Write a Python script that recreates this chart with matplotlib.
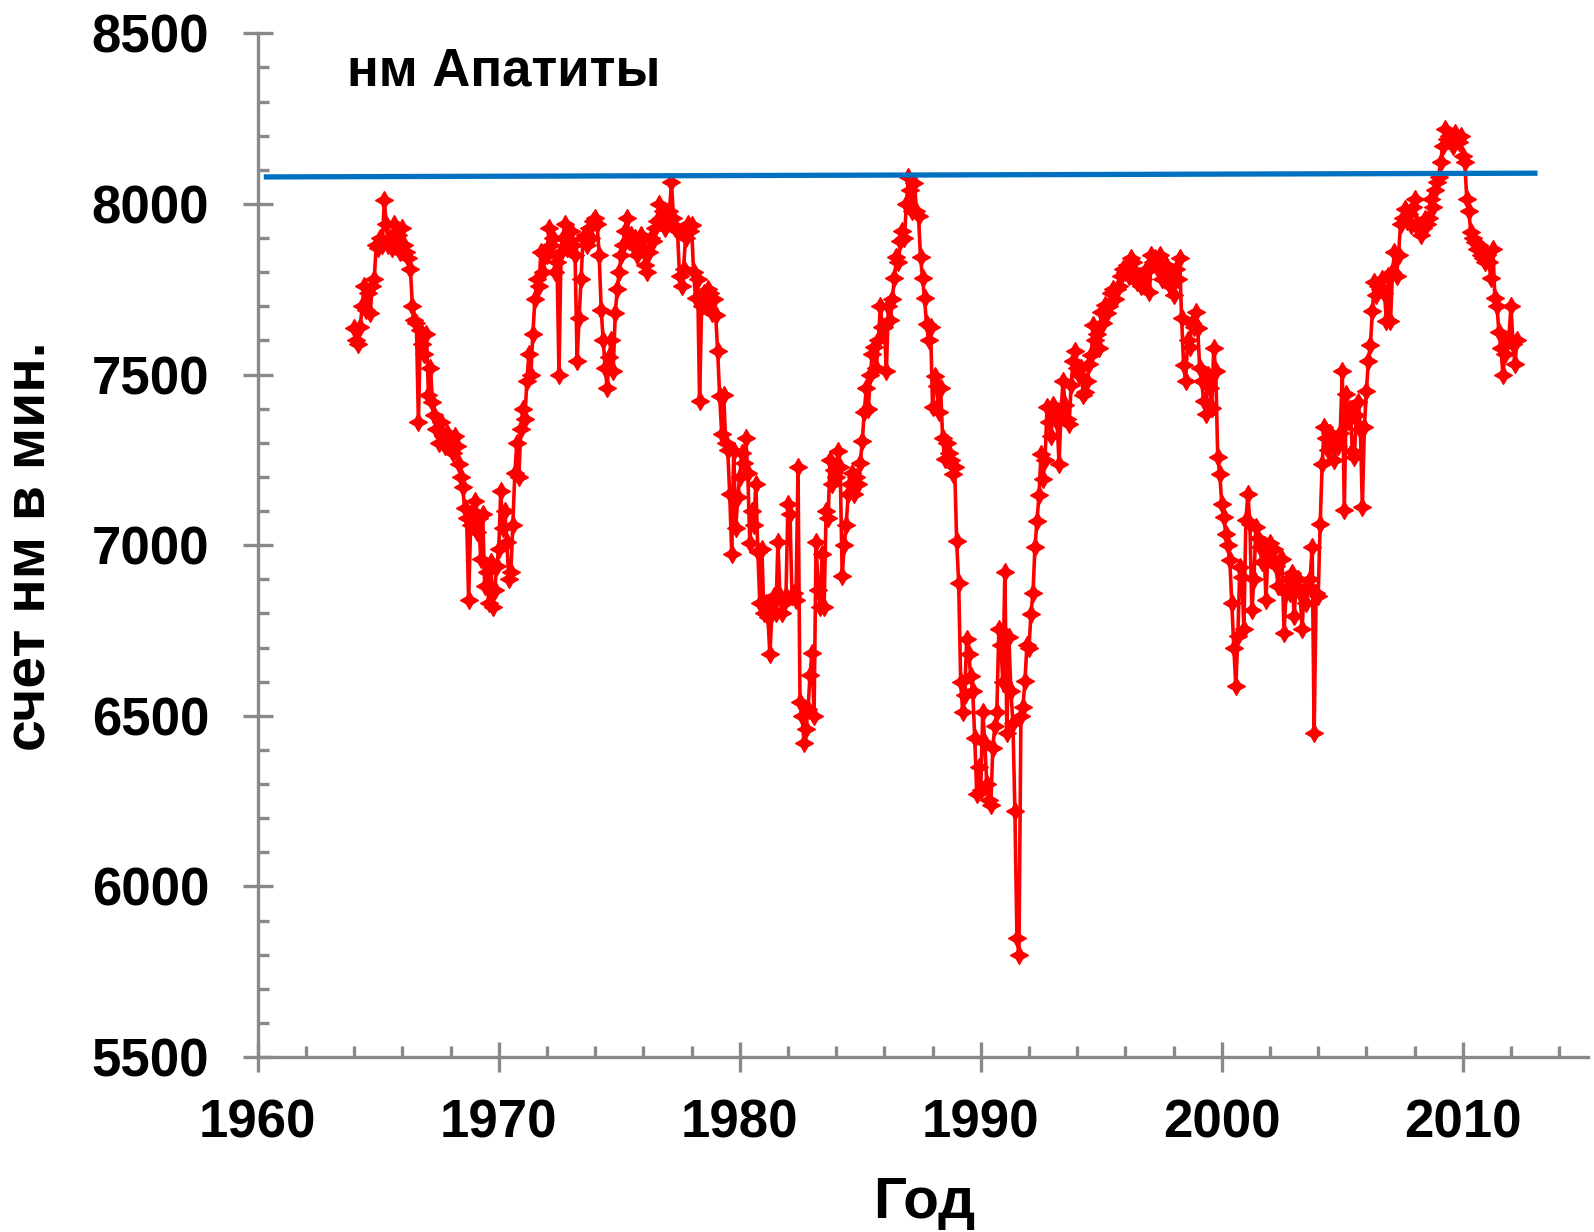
import numpy as np
import matplotlib.pyplot as plt
from matplotlib.path import Path
from matplotlib.ticker import MultipleLocator

plt.rcParams['font.family'] = ['Liberation Sans', 'DejaVu Sans']
plt.rcParams['font.weight'] = 'bold'

# monthly count rate of the Apatity neutron monitor, starting Jan 1964
start_year = 1964
counts_1960s = [
    7635, 7600, 7590, 7640, 7700, 7760, 7690, 7740, 7680, 7760, 7780, 7880,  # 1964
    7870, 7900, 7880, 8010, 7940, 7880, 7900, 7870, 7940, 7880, 7910, 7860,  # 1965
    7930, 7880, 7860, 7840, 7810, 7700, 7660, 7650, 7360, 7630, 7590, 7560,  # 1966
    7620, 7440, 7520, 7420, 7380, 7340, 7300, 7360, 7320, 7290, 7330, 7300,  # 1967
    7310, 7270, 7320, 7290, 7237, 7200, 7170, 7110, 7080, 6840, 7060, 7100,  # 1968
    7130, 7040, 7080, 6960, 7090, 6880, 6920, 6830, 6950, 6820, 6870, 6940,  # 1969
]
counts_1970s = [
    6990, 7160, 7050, 7100, 7010, 6900, 6920, 7060, 7210, 7300, 7200, 7340,  # 1970
    7400, 7370, 7480, 7560, 7500, 7620, 7720, 7780, 7760, 7860, 7800, 7850,  # 1971
    7850, 7930, 7880, 7900, 7800, 7830, 7500, 7860, 7900, 7940, 7870, 7890,  # 1972
    7920, 7880, 7850, 7540, 7665, 7780, 7900, 7910, 7880, 7930, 7900, 7950,  # 1973
    7960, 7940, 7850, 7690, 7600, 7520, 7460, 7550, 7600, 7510, 7680, 7750,  # 1974
    7800, 7850, 7880, 7920, 7960, 7890, 7910, 7880, 7900, 7850, 7880, 7910,  # 1975
    7870, 7820, 7800, 7860, 7900, 7890, 7930, 7950, 8000, 7960, 7980, 7930,  # 1976
    7950, 7980, 8063, 7960, 7930, 7920, 7790, 7760, 7810, 7900, 7940, 7920,  # 1977
    7937, 7800, 7723, 7780, 7422, 7700, 7740, 7700, 7752, 7740, 7680, 7720,  # 1978
    7675, 7568, 7437, 7325, 7440, 7300, 7280, 7150, 6975, 7277, 7050, 7140,  # 1979
]
counts_1980s = [
    7200, 7270, 7240, 7315, 7210, 7005, 7100, 7060, 7180, 6980, 6830, 6990,  # 1980
    6800, 6830, 6790, 6680, 6800, 6850, 6800, 7010, 6850, 6800, 6830, 6850,  # 1981
    7120, 7090, 6850, 6860, 6840, 7228, 6540, 6500, 6420, 6460, 6520, 6620,  # 1982
    6685, 6500, 7010, 6870, 6820, 6975, 6820, 7100, 7080, 7250, 7180, 7220,  # 1983
    7200, 7277, 7230, 6910, 7000, 7060, 7150, 7180, 7210, 7150, 7200, 7180,  # 1984
    7240, 7305, 7390, 7460, 7400, 7500, 7560, 7580, 7520, 7600, 7700, 7640,  # 1985
    7640, 7511, 7700, 7660, 7720, 7783, 7844, 7830, 7890, 7920, 7900, 8000,  # 1986
    8080, 8040, 7980, 8060, 7980, 7965, 7844, 7783, 7723, 7647, 7602, 7640,  # 1987
    7405, 7496, 7465, 7390, 7460, 7314, 7253, 7300, 7270, 7250, 7208, 7230,  # 1988
    7011, 6890, 6600, 6512, 6560, 6724, 6680, 6617, 6572, 6436, 6270, 6350,  # 1989
]
counts_1990s = [
    6284, 6512, 6420, 6300, 6254, 6240, 6405, 6470, 6512, 6754, 6708, 6600,  # 1990
    6920, 6451, 6730, 6572, 6480, 6220, 5850, 5800, 6500, 6527, 6602, 6708,  # 1991
    6700, 6799, 6860, 6996, 7071, 7147, 7268, 7193, 7250, 7405, 7360, 7320,  # 1992
    7412, 7380, 7360, 7238, 7400, 7480, 7412, 7370, 7354, 7470, 7540, 7568,  # 1993
    7520, 7500, 7519, 7441, 7450, 7480, 7530, 7558, 7645, 7600, 7620, 7577,  # 1994
    7684, 7650, 7704, 7680, 7700, 7740, 7752, 7720, 7752, 7760, 7790, 7810,  # 1995
    7800, 7820, 7790, 7840, 7830, 7800, 7772, 7790, 7760, 7780, 7800, 7810,  # 1996
    7743, 7850, 7830, 7840, 7810, 7850, 7781, 7800, 7820, 7790, 7760, 7800,  # 1997
    7733, 7810, 7780, 7840, 7665, 7529, 7480, 7600, 7580, 7650, 7640, 7684,  # 1998
    7636, 7519, 7480, 7422, 7383, 7500, 7460, 7403, 7577, 7510, 7257, 7208,  # 1999
]
counts_2000s = [
    7121, 7082, 7034, 7000, 6956, 6830, 6700, 6587, 6733, 6937, 6907, 6753,  # 2000
    7073, 7150, 7063, 6810, 6900, 7053, 7020, 6995, 6950, 7000, 6840, 6980,  # 2001
    7005, 6960, 6990, 6940, 6880, 6956, 6960, 6743, 6859, 6900, 6860, 6917,  # 2002
    6791, 6880, 6900, 6859, 6753, 6870, 6830, 6880, 6900, 6995, 6451, 6859,  # 2003
    6850, 7063, 7238, 7345, 7315, 7280, 7330, 7300, 7250, 7306, 7290, 7330,  # 2004
    7510, 7102, 7442, 7364, 7400, 7277, 7257, 7380, 7420, 7340, 7112, 7345,  # 2005
    7451, 7539, 7587, 7685, 7772, 7733, 7760, 7750, 7780, 7740, 7656, 7790,  # 2006
    7656, 7800, 7860, 7790, 7850, 7940, 7960, 7986, 7950, 7970, 7937, 7990,  # 2007
    8015, 7940, 7927, 7908, 7930, 7957, 7940, 7960, 8015, 7990, 8040, 8063,  # 2008
    8080, 8122, 8170, 8219, 8190, 8200, 8180, 8170, 8209, 8190, 8180, 8200,  # 2009
]
counts_2010s = [
    8141, 8122, 8015, 7980, 7918, 7900, 7889, 7869, 7880, 7850, 7840, 7830,  # 2010
    7850, 7830, 7782, 7869, 7724, 7700, 7626, 7578, 7500, 7560, 7600, 7610,  # 2011
    7700, 7590, 7530, 7600,                                                  # 2012
]

# reference level (blue line)
level_years = [1960.25, 2013.1]
level_values = [8079, 8090]

counts = counts_1960s + counts_1970s + counts_1980s + counts_1990s + counts_2000s + counts_2010s
years = start_year + np.arange(len(counts)) / 12.0

# four-pointed star marker
r = 0.36
star = Path([(0, 1), (r, r), (1, 0), (r, -r), (0, -1), (-r, -r), (-1, 0), (-r, r), (0, 1)],
            [Path.MOVETO] + [Path.LINETO] * 7 + [Path.CLOSEPOLY])

grey = '#898989'

fig = plt.figure(figsize=(15.94, 12.32), dpi=100)
ax = fig.add_axes([0.1617, 0.142, 0.8346, 0.831])

ax.plot(years, counts, color='#ff0000', lw=2.6, marker=star, ms=12.5,
        mfc='#ff0000', mec='#ff0000', mew=1.2, zorder=3)
ax.plot(level_years, level_values, color='#0070c0', lw=3.8, zorder=4,
        solid_capstyle='butt')

ax.set_xlim(1960, 2015.2)
ax.set_ylim(5500, 8500)
ax.xaxis.set_major_locator(MultipleLocator(10))
ax.xaxis.set_minor_locator(MultipleLocator(2))
ax.yaxis.set_major_locator(MultipleLocator(500))
ax.yaxis.set_minor_locator(MultipleLocator(100))

for side in ['top', 'right']:
    ax.spines[side].set_visible(False)
for side in ['left', 'bottom']:
    ax.spines[side].set_color(grey)
    ax.spines[side].set_linewidth(2.4)

ax.tick_params(which='major', direction='inout', length=22, width=2.4, color=grey,
               labelsize=38, labelcolor='black')
ax.tick_params(axis='y', which='major', pad=24)
ax.tick_params(axis='x', which='major', pad=19)
ax.tick_params(which='minor', direction='in', length=8, width=2.4, color=grey)
for lab in ax.get_xticklabels() + ax.get_yticklabels():
    lab.set_fontweight('bold')

fig.text(0.580, 0.0235, 'Год', fontsize=42, fontweight='bold', ha='center', va='center')
fig.text(0.019, 0.557, 'счет нм в мин.', fontsize=41, fontweight='bold',
         rotation=90, ha='center', va='center')
fig.text(0.218, 0.942, 'нм Апатиты', fontsize=38, fontweight='bold', ha='left', va='center')

fig.savefig('out.png', dpi=100)
